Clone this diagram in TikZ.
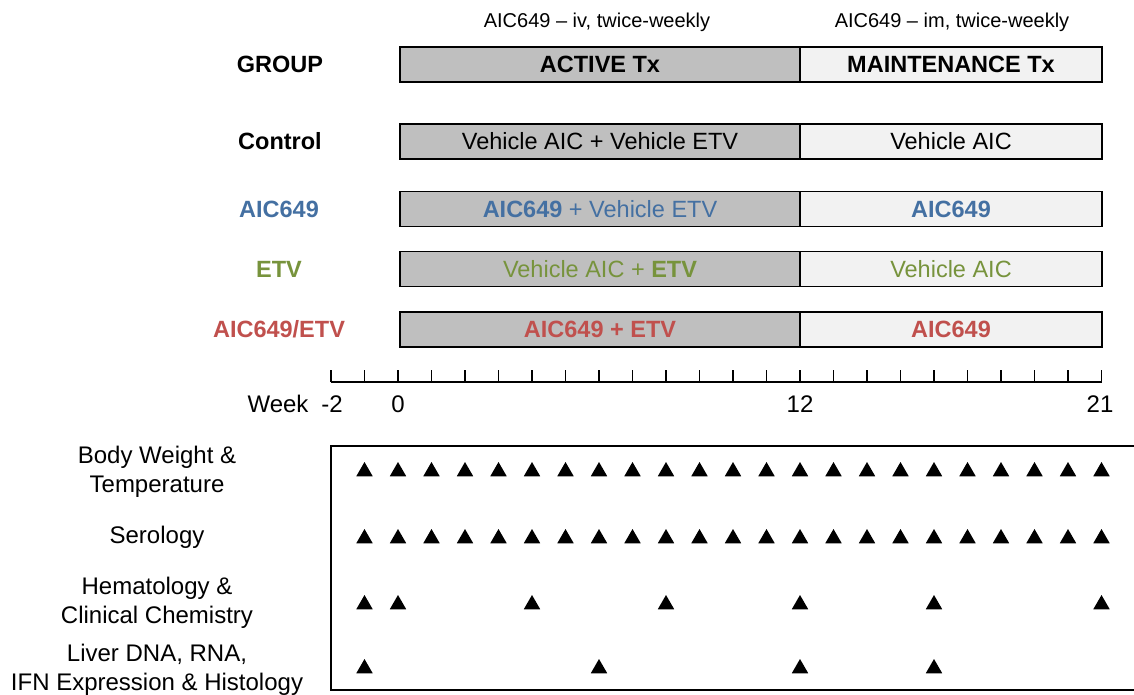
\documentclass[tikz,border=0pt]{standalone}
\usepackage{fontspec}
\setmainfont{Liberation Sans}
\usetikzlibrary{shapes.geometric}
\definecolor{cblue}{HTML}{4470A2}
\definecolor{cgreen}{HTML}{77933C}
\definecolor{cred}{HTML}{C0504D}
\definecolor{cgray}{HTML}{BFBFBF}
\definecolor{clight}{HTML}{F2F2F2}
\begin{document}
\begin{tikzpicture}[x=1pt,y=-1pt,
  boxtext/.style={font=\fontsize{23.5}{27}\selectfont},
  activebox/.style={boxtext,draw=black,line width=1.6pt,fill=cgray,minimum width=400pt,minimum height=35pt,inner sep=0pt},
  maintbox/.style={boxtext,draw=black,line width=1.6pt,fill=clight,minimum width=302pt,minimum height=35pt,inner sep=0pt},
  grouplabel/.style={font=\fontsize{23.5}{27}\selectfont\bfseries},
  toplabel/.style={font=\fontsize{20}{24}\selectfont},
  weeklabel/.style={font=\fontsize{24}{28}\selectfont},
  measlabel/.style={font=\fontsize{24}{28.5}\selectfont,align=center},
  mk/.style={regular polygon,regular polygon sides=3,fill=black,inner sep=0pt,minimum size=19pt},
  axisline/.style={line width=1.6pt}]
\useasboundingbox (0,0) rectangle (1134,695);

% header
\node[toplabel] (ivlab) at (597,22) {AIC649 -- iv, twice-weekly};
\node[toplabel] (imlab) at (952,22) {AIC649 -- im, twice-weekly};

\node[grouplabel] (lgroup) at (280,64.5) {GROUP};
\node[activebox] (hact) at (600,64.5) {\bfseries ACTIVE Tx};
\node[maintbox] (hmnt) at (951,64.5) {\bfseries MAINTENANCE Tx};

% Control
\node[grouplabel] (lctrl) at (280,141.5) {Control};
\node[activebox] (actrl) at (600,141.5) {Vehicle AIC + Vehicle ETV};
\node[maintbox] (mctrl) at (951,141.5) {Vehicle AIC};

% AIC649
\node[grouplabel,text=cblue] (laic) at (279,209) {AIC649};
\node[activebox,text=cblue] (aaic) at (600,209) {\textbf{AIC649} + Vehicle ETV};
\node[maintbox,text=cblue] (maic) at (951,209) {\textbf{AIC649}};

% ETV
\node[grouplabel,text=cgreen] (letv) at (279,269) {ETV};
\node[activebox,text=cgreen] (aetv) at (600,269) {Vehicle AIC + \textbf{ETV}};
\node[maintbox,text=cgreen] (metv) at (951,269) {Vehicle AIC};

% AIC649/ETV
\node[grouplabel,text=cred] (lcomb) at (279,329.5) {AIC649/ETV};
\node[activebox,text=cred] (acomb) at (600,329.5) {\bfseries AIC649 + ETV};
\node[maintbox,text=cred] (mcomb) at (951,329.5) {\bfseries AIC649};

% time axis
\coordinate (axL) at (331,382);
\coordinate (axR) at (1102,382);
\draw[axisline] (axL) -- (axR);
\foreach \w in {-2,...,21}{
  \draw[axisline] (398+33.5*\w,382) -- (398+33.5*\w,370);
}
\node[weeklabel,anchor=east] (wk) at (312,404) {Week};
\node[weeklabel] (wm2) at (332,404) {-2};
\node[weeklabel] (w0) at (398,404) {0};
\node[weeklabel] (w12) at (800,404) {12};
\node[weeklabel] (w21) at (1100,404) {21};

% measurement frame
\coordinate (fTR) at (1134,446);
\coordinate (fTL) at (331,446);
\coordinate (fBL) at (331,690);
\coordinate (fBR) at (1134,690);
\draw[axisline] (fTR) -- (fTL) -- (fBL) -- (fBR);

% measurement labels
\node[measlabel] (mbw) at (157,472) {Body Weight \&\\Temperature};
\node[measlabel] (mser) at (157,537) {Serology};
\node[measlabel] (mhem) at (157,603) {Hematology \&\\Clinical Chemistry};
\node[measlabel] (mliv) at (157,670) {Liver DNA, RNA,\\IFN Expression \& Histology};

% markers
\foreach \w in {-1,...,21}{
  \node[mk] (bw\w) at (398+33.5*\w,471.5) {};
  \node[mk] (se\w) at (398+33.5*\w,538.5) {};
}
\foreach \w in {-1,0,4,8,12,16,21}{
  \node[mk] (he\w) at (398+33.5*\w,604.5) {};
}
\foreach \w in {-1,6,12,16}{
  \node[mk] (li\w) at (398+33.5*\w,668.5) {};
}
\end{tikzpicture}
\end{document}
